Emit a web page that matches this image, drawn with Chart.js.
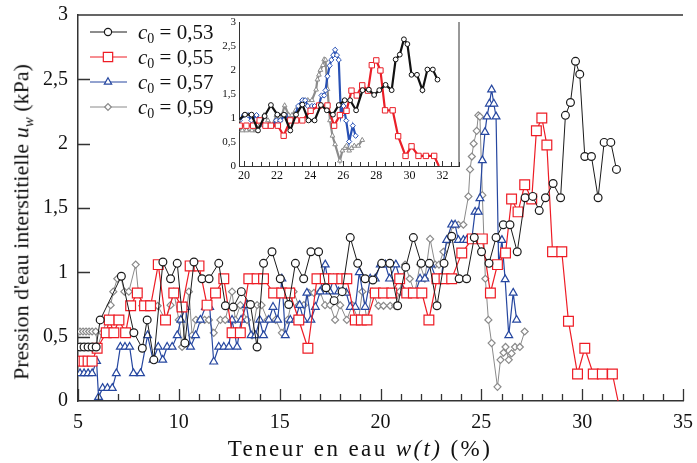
<!DOCTYPE html>
<html>
<head>
<meta charset="utf-8">
<script src="https://cdn.jsdelivr.net/npm/chart.js@4.4.0/dist/chart.umd.min.js"></script>
<style>
  html, body { margin: 0; padding: 0; background: #fff; }
  #wrap { position: relative; width: 697px; height: 463px; font-family: "Liberation Serif", "Times New Roman", serif; color: #111; }
  #mainChart { position: absolute; left: 0; top: 0; }
  #insetChart { position: absolute; left: 205px; top: 16px; }
  .ytitle { position: absolute; left: 23px; top: 222px; transform: translate(-50%, -50%) rotate(-90deg); white-space: nowrap; font-size: 22px; }
  .xtitle { position: absolute; left: 360px; top: 449px; transform: translate(-50%, -50%); white-space: nowrap; font-size: 23px; letter-spacing: 2.4px; }
  sub { font-size: 15px; }
</style>
</head>
<body>
<div id="wrap">
  <canvas id="mainChart" width="697" height="463"></canvas>
  <canvas id="insetChart" width="265" height="172"></canvas>
  <div class="ytitle">Pression d'eau interstitielle <i>u</i><sub><i>w</i></sub> (kPa)</div>
  <div class="xtitle">Teneur en eau <i>w(t)</i> (%)</div>
</div>
<script>
// teneur en eau (%) and pression (kPa) for each c0
const c0Labels = ['0,53', '0,55', '0,57', '0,59'];

const blackW = [5.1, 5.3, 5.5, 5.7, 5.9, 6.1, 7.15, 7.77, 8.19, 8.43,
  8.76, 9.21, 9.59, 9.92, 10.3, 10.75, 11.15, 11.5, 11.98, 12.31,
  12.7, 13.1, 13.55, 13.88, 14.2, 14.62, 15.03, 15.45, 15.78, 16.19,
  16.55, 16.93, 17.3, 17.7, 18.1, 18.5, 18.87, 19.24, 19.62, 20.06,
  20.46, 20.85, 21.25, 21.63, 22.02, 22.42, 22.8, 23.15, 23.53, 23.9,
  24.27, 24.65, 25.01, 25.38, 25.73, 26.09, 26.42, 26.78, 27.17, 27.55,
  27.87, 28.18, 28.56, 28.93, 29.17, 29.42, 29.67, 29.88, 30.13, 30.46,
  30.79, 31.09, 31.42, 31.7];
const blackU = [0.42, 0.42, 0.42, 0.42, 0.42, 0.63, 0.97, 0.53, 0.41, 0.63,
  0.32, 1.08, 0.95, 1.07, 0.45, 1.08, 0.95, 0.95, 1.07, 0.74,
  0.73, 0.85, 0.75, 0.42, 1.07, 1.16, 0.95, 0.75, 1.07, 0.95,
  1.16, 1.16, 0.88, 0.78, 0.85, 1.27, 1.07, 0.95, 0.94, 1.07,
  1.07, 0.74, 1.04, 1.27, 1.07, 1.07, 0.74, 1.07, 1.28, 0.95,
  0.95, 1.27, 1.16, 1.07, 1.27, 1.37, 1.37, 1.16, 1.58, 1.59,
  1.48, 1.58, 1.69, 1.58, 2.22, 2.32, 2.64, 2.54, 1.9, 1.9,
  1.58, 2.01, 2.01, 1.8];

const redW = [5.1, 5.3, 5.5, 5.7, 5.95, 6.4, 6.55, 6.78, 7.03, 7.36,
  7.61, 7.94, 8.3, 8.6, 8.98, 9.34, 9.75, 10.16, 10.56, 11.0,
  11.4, 11.82, 12.23, 12.64, 13.05, 13.47, 13.88, 14.2, 14.7, 15.1,
  15.5, 15.95, 16.4, 16.85, 17.26, 17.67, 18.08, 18.33, 18.75, 19.05,
  19.33, 19.74, 20.15, 20.56, 20.95, 21.3, 21.63, 22.05, 22.4, 22.8,
  23.15, 23.53, 24.03, 24.55, 25.05, 25.45, 25.8, 26.2, 26.5, 26.82,
  27.15, 27.5, 27.73, 28.0, 28.25, 28.53, 28.99, 29.32, 29.77, 30.13,
  30.55, 31.0, 31.5, 31.78];
const redU = [0.31, 0.31, 0.31, 0.31, 0.41, 0.53, 0.63, 0.53, 0.63, 0.53,
  0.74, 0.84, 0.74, 0.74, 1.06, 0.63, 0.84, 0.73, 1.05, 1.05,
  0.745, 0.84, 0.95, 0.53, 0.53, 0.95, 0.95, 0.95, 0.84, 0.84,
  0.84, 0.63, 0.41, 0.95, 0.95, 0.95, 0.95, 0.95, 0.63, 0.63,
  0.63, 0.84, 0.84, 0.84, 0.95, 0.84, 0.84, 0.84, 0.63, 0.95,
  0.95, 0.95, 1.15, 1.26, 1.26, 0.84, 1.06, 1.15, 1.57, 1.47,
  1.68, 1.57, 2.1, 2.2, 1.99, 1.16, 1.16, 0.62, 0.21, 0.41,
  0.21, 0.21, 0.21, 0.0];

const blueW = [5.1, 5.3, 5.5, 5.7, 5.92, 6.02, 6.22, 6.46, 6.7, 6.9,
  7.1, 7.33, 7.56, 7.75, 8.1, 8.45, 8.72, 8.98, 9.2, 9.42,
  9.67, 9.92, 10.1, 10.33, 10.58, 10.83, 11.07, 11.32, 11.53, 11.73,
  11.98, 12.23, 12.48, 12.64, 12.89, 13.09, 13.35, 13.58, 13.8, 14.01,
  14.2, 14.46, 14.67, 14.9, 15.11, 15.28, 15.53, 15.77, 15.99, 16.19,
  16.35, 16.55, 16.77, 17.01, 17.26, 17.48, 17.67, 17.92, 18.13, 18.3,
  18.5, 18.75, 18.95, 19.24, 19.49, 19.74, 19.99, 20.24, 20.45, 20.76,
  20.97, 21.22, 21.47, 21.72, 21.96, 22.2, 22.5, 22.76, 23.0, 23.28,
  23.53, 23.7, 23.86, 24.11, 24.27, 24.52, 24.69, 24.85, 24.93, 25.05,
  25.18, 25.28, 25.4, 25.51, 25.62, 25.73, 25.86, 26.02, 26.18, 26.36,
  26.58, 26.75];
const blueU = [0.215, 0.215, 0.215, 0.215, 0.31, 0.03, 0.1, 0.1, 0.1, 0.215,
  0.42, 0.42, 0.42, 0.215, 0.215, 0.51, 0.32, 0.42, 0.32, 0.42,
  0.42, 0.51, 0.63, 0.73, 0.42, 0.51, 0.63, 0.73, 0.73, 0.305,
  0.42, 0.42, 0.42, 0.63, 0.42, 0.63, 0.745, 0.51, 0.51, 0.63,
  0.51, 0.63, 0.73, 0.63, 0.95, 0.51, 0.63, 0.63, 0.745, 0.63,
  0.84, 0.63, 0.73, 0.85, 1.06, 0.85, 0.95, 0.85, 0.85, 0.84,
  0.73, 0.73, 1.0, 0.73, 0.95, 0.95, 1.06, 1.06, 0.95, 1.06,
  0.95, 0.84, 0.84, 0.84, 0.95, 0.95, 1.06, 0.95, 0.95, 1.25,
  1.37, 1.37, 1.25, 1.25, 1.25, 1.25, 1.47, 1.47, 1.575, 1.87,
  2.09, 2.21, 2.31, 2.42, 2.31, 2.21, 1.05, 1.25, 0.945, 0.51,
  0.84, 0.63];

const grayW = [5.1, 5.25, 5.4, 5.55, 5.7, 5.88, 5.97, 6.2, 6.45, 6.62,
  6.75, 6.95, 7.11, 7.3, 7.52, 7.86, 7.99, 8.19, 8.43, 8.68,
  8.95, 9.34, 9.59, 9.75, 10.0, 10.16, 10.5, 10.66, 10.85, 11.07,
  11.28, 11.49, 11.73, 12.06, 12.3, 12.64, 12.8, 13.05, 13.38, 13.63,
  13.88, 14.1, 14.4, 14.8, 15.11, 15.4, 15.69, 15.94, 16.2, 16.45,
  16.7, 17.0, 17.25, 17.5, 17.75, 18.0, 18.33, 18.6, 18.91, 19.1,
  19.33, 19.58, 19.9, 20.15, 20.48, 20.73, 20.95, 21.22, 21.45, 21.7,
  21.96, 22.2, 22.46, 22.71, 22.9, 23.12, 23.35, 23.61, 23.86, 24.11,
  24.36, 24.44, 24.53, 24.62, 24.77, 24.85, 24.93, 25.05, 25.2, 25.35,
  25.51, 25.8, 25.95, 26.1, 26.2, 26.36, 26.5, 26.67, 26.91, 27.15];
const grayU = [0.54, 0.54, 0.54, 0.54, 0.54, 0.54, 0.42, 0.53, 0.63, 0.745,
  0.85, 0.95, 0.97, 0.85, 0.85, 1.06, 0.85, 0.74, 0.74, 0.74,
  0.74, 0.63, 0.745, 0.85, 0.63, 0.42, 0.85, 0.51, 0.63, 0.63,
  0.63, 0.63, 0.53, 0.63, 0.63, 0.85, 0.63, 0.745, 0.63, 0.51,
  0.745, 0.745, 0.63, 0.63, 0.53, 0.63, 0.85, 0.745, 0.745, 0.84,
  0.84, 0.85, 0.745, 0.745, 0.63, 0.745, 0.63, 0.745, 0.63, 0.85,
  0.63, 0.85, 0.74, 0.74, 0.74, 0.74, 0.85, 1.06, 0.95, 0.84,
  1.06, 0.95, 1.26, 1.06, 1.06, 1.16, 1.25, 1.37, 1.37, 1.37,
  1.59, 1.8, 1.9, 2.0, 2.1, 2.22, 2.21, 1.6, 0.95, 0.63,
  0.45, 0.11, 0.32, 0.375, 0.42, 0.32, 0.37, 0.42, 0.42, 0.54];

const mainXTicks = [5, 10, 15, 20, 25, 30, 35];
const insetXTicks = [20, 22, 24, 26, 28, 30, 32];

const serif = '"Liberation Serif", "Times New Roman", serif';
Chart.defaults.font.family = serif;
Chart.defaults.color = '#111';

const toPts = (xs, ys) => xs.map((x, i) => ({ x: x, y: ys[i] }));
const commaFmt = v => String(v).replace('.', ',');
// markers sitting on the axis are hidden, as in the original
const hideOnAxis = r => (ctx => (ctx.raw && ctx.raw.y <= 0) ? 0 : r);

// fixed axis box sizes, no extra room for the end labels
const fixX = h => (s => { s.height = h; s.paddingLeft = 0; s.paddingRight = 0; });
const fixY = w => (s => { s.width = w; s.paddingTop = 0; s.paddingBottom = 0; });

// inward tick marks + extra frame lines
const frameTicks = {
  id: 'frameTicks',
  afterDatasetsDraw(chart, args, o) {
    const { ctx, chartArea: a, scales: { x, y } } = chart;
    ctx.save();
    ctx.strokeStyle = o.color;
    ctx.lineWidth = o.width;
    ctx.beginPath();
    const n0 = Math.ceil(x.min / o.xMinor - 1e-9);
    for (let i = n0; i * o.xMinor <= x.max + 1e-9; i++) {
      const v = i * o.xMinor;
      const r = v / o.xMajor;
      const major = Math.abs(r - Math.round(r)) < 1e-6;
      const px = Math.round(x.getPixelForValue(v)) + 0.5;
      ctx.moveTo(px, a.bottom);
      ctx.lineTo(px, a.bottom - (major ? o.majorLen : o.minorLen));
    }
    if (o.yLen > 0) {
      for (let v = o.yStep; v < y.max - 1e-9; v += o.yStep) {
        const py = Math.round(y.getPixelForValue(v)) + 0.5;
        ctx.moveTo(a.left, py);
        ctx.lineTo(a.left + o.yLen, py);
      }
    }
    if (o.top) { ctx.moveTo(a.left, a.top); ctx.lineTo(a.right, a.top); }
    if (o.right) { ctx.moveTo(a.right, a.top); ctx.lineTo(a.right, a.bottom); }
    ctx.stroke();
    ctx.restore();
  }
};

// legend with c0 written as italic c + subscript 0
const c0Legend = {
  id: 'c0Legend',
  afterDraw(chart) {
    const ctx = chart.ctx;
    chart.data.datasets.forEach((ds, i) => {
      const yy = 32 + i * 25;
      ctx.save();
      ctx.strokeStyle = ds.borderColor;
      ctx.lineWidth = 1;
      ctx.beginPath();
      ctx.moveTo(90, yy);
      ctx.lineTo(127, yy);
      ctx.stroke();
      ctx.fillStyle = '#fff';
      ctx.lineWidth = 1.2;
      Chart.helpers.drawPoint(ctx, { pointStyle: ds.pointStyle, radius: ds.legendRadius, borderWidth: 1.2, rotation: 0 }, 108, yy);
      ctx.fillStyle = '#111';
      let tx = 138;
      const base = yy + 7;
      ctx.font = 'italic 21px ' + serif;
      ctx.fillText('c', tx, base);
      tx += ctx.measureText('c').width;
      ctx.font = '14px ' + serif;
      ctx.fillText('0', tx, base + 4);
      tx += ctx.measureText('0').width;
      ctx.font = '21px ' + serif;
      ctx.fillText(' = ' + c0Labels[i], tx, base);
      ctx.restore();
    });
  }
};

function mkSet(label, xs, ys, color, style, radius, lw, legendRadius) {
  return {
    label: label,
    data: toPts(xs, ys),
    borderColor: color,
    borderWidth: lw,
    pointStyle: style,
    pointRadius: hideOnAxis(radius),
    pointBorderColor: color,
    pointBackgroundColor: '#fff',
    pointBorderWidth: 1.2,
    tension: 0,
    clip: 0,
    legendRadius: legendRadius
  };
}

const mainChart = new Chart(document.getElementById('mainChart'), {
  type: 'line',
  data: {
    datasets: [
      mkSet('c0 = 0,53', blackW, blackU, '#1a1a1a', 'circle', 3.9, 1, 3.6),
      mkSet('c0 = 0,55', redW, redU, '#ee1c25', 'rect', 6.9, 1.2, 6.6),
      mkSet('c0 = 0,57', blueW, blueU, '#2647a0', 'triangle', 4.5, 1.2, 4.2),
      mkSet('c0 = 0,59', grayW, grayU, '#8a8a8a', 'rectRot', 3.5, 1, 3.3)
    ]
  },
  options: {
    responsive: false,
    animation: false,
    devicePixelRatio: 1,
    layout: { padding: { left: 0, top: 15, right: 14, bottom: 0 } },
    plugins: {
      legend: { display: false },
      tooltip: { enabled: false },
      frameTicks: { color: '#333', width: 1.3, xMinor: 1, xMajor: 5, majorLen: 12, minorLen: 7, yStep: 0.5, yLen: 12, top: true, right: false }
    },
    scales: {
      x: {
        type: 'linear', min: 5, max: 35,
        afterFit: fixX(62),
        afterBuildTicks: s => { s.ticks = mainXTicks.map(v => ({ value: v })); },
        grid: { display: false, drawTicks: false },
        border: { color: '#333', width: 1.5 },
        ticks: { font: { size: 20 }, color: '#111', padding: 10, maxRotation: 0 }
      },
      y: {
        min: 0, max: 3,
        afterFit: fixY(78),
        grid: { display: false, drawTicks: false },
        border: { color: '#333', width: 1.5 },
        ticks: { stepSize: 0.5, font: { size: 20 }, color: '#111', padding: 10, callback: commaFmt }
      }
    }
  },
  plugins: [frameTicks, c0Legend]
});

// inset: same measurements, zoomed on 20-33 %
function mkInset(xs, ys, color, style, radius) {
  return {
    data: toPts(xs, ys),
    borderColor: color,
    borderWidth: 2.2,
    pointStyle: style,
    pointRadius: hideOnAxis(radius),
    pointBorderColor: color,
    pointBackgroundColor: '#fff',
    pointBorderWidth: 1,
    tension: 0,
    clip: 0
  };
}

const insetChart = new Chart(document.getElementById('insetChart'), {
  type: 'line',
  data: {
    datasets: [
      mkInset(blackW, blackU, '#111', 'circle', 2.4),
      mkInset(redW, redU, '#ea1f28', 'rect', 3.8),
      mkInset(blueW, blueU, '#2750b5', 'rectRot', 2.6),
      mkInset(grayW, grayU, '#8c8c8c', 'triangle', 2.7)
    ]
  },
  options: {
    responsive: false,
    animation: false,
    devicePixelRatio: 1,
    layout: { padding: { left: 0, top: 6, right: 11, bottom: 0 } },
    plugins: {
      legend: { display: false },
      tooltip: { enabled: false },
      frameTicks: { color: '#333', width: 1, xMinor: 0.5, xMajor: 2, majorLen: 5, minorLen: 4, yStep: 0.5, yLen: 0, top: false, right: true }
    },
    scales: {
      x: {
        type: 'linear', min: 19.7, max: 33,
        afterFit: fixX(22),
        afterBuildTicks: s => { s.ticks = insetXTicks.map(v => ({ value: v })); },
        grid: { display: false, drawTicks: false },
        border: { color: '#333', width: 1 },
        ticks: { font: { size: 12 }, color: '#111', padding: 3, maxRotation: 0 }
      },
      y: {
        min: 0, max: 3,
        afterFit: fixY(34),
        grid: { display: false, drawTicks: false },
        border: { color: '#333', width: 1 },
        ticks: { stepSize: 0.5, font: { size: 11 }, color: '#111', padding: 3, callback: commaFmt }
      }
    }
  },
  plugins: [frameTicks]
});
</script>
</body>
</html>
